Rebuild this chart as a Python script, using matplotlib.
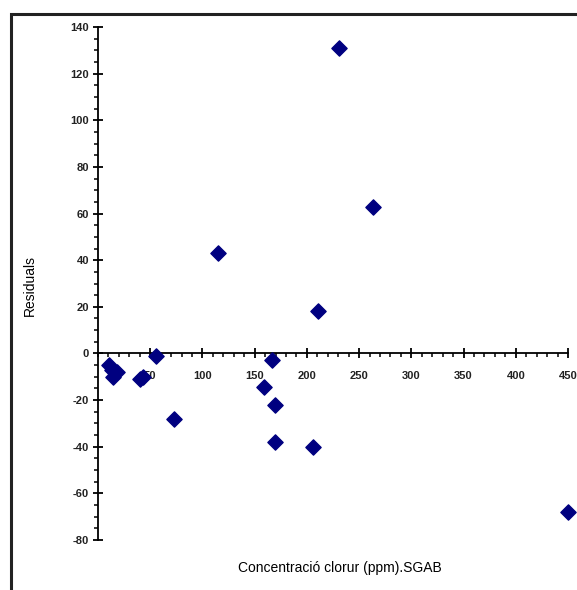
import matplotlib.pyplot as plt
from matplotlib.patches import Rectangle
from matplotlib.ticker import MultipleLocator

# chloride concentration (ppm) vs residuals
conc = [231, 263, 115, 211, 56, 167, 11, 13, 18, 14, 40, 43, 159, 169, 73, 169, 206, 450]
resid = [131, 63, 43, 18, -1, -3, -5, -7, -8, -10, -11, -10, -14.5, -22, -28, -38, -40, -68]

x_ticks = [50, 100, 150, 200, 250, 300, 350, 400, 450]
y_ticks = [-80, -60, -40, -20, 0, 20, 40, 60, 80, 100, 120, 140]

plt.rcParams['font.family'] = ['Liberation Sans', 'DejaVu Sans']
plt.rcParams['axes.unicode_minus'] = False

fig = plt.figure(figsize=(5.77, 5.90), dpi=100)
# outer chart frame (cut off at right and bottom like the screenshot)
fig.patches.append(Rectangle((11 / 577, -0.1), 1.2, 1 - 14 / 590 + 0.1,
                             transform=fig.transFigure, fill=False,
                             edgecolor='#222222', linewidth=2.2))

ax = fig.add_axes([98 / 577, 1 - 540 / 590, 470 / 577, 513 / 590])
ax.scatter(conc, resid, marker='D', s=60, color='#000080', zorder=3, clip_on=False)

ax.set_xlim(0, 450)
ax.set_ylim(-80, 140)

ax.spines['top'].set_visible(False)
ax.spines['right'].set_visible(False)
ax.spines['bottom'].set_position(('data', 0))
for sp in ('left', 'bottom'):
    ax.spines[sp].set_linewidth(1.3)
    ax.spines[sp].set_color('black')

ax.set_xticks(x_ticks)
ax.set_yticks(y_ticks)
ax.xaxis.set_minor_locator(MultipleLocator(10))
ax.yaxis.set_minor_locator(MultipleLocator(5))
ax.tick_params(axis='both', which='major', direction='inout', length=7, width=1.3,
               labelsize=8, pad=3)
ax.tick_params(axis='both', which='minor', direction='out', length=3, width=1.1)
ax.tick_params(axis='x', which='major', pad=9)
for lab in ax.get_xticklabels() + ax.get_yticklabels():
    lab.set_fontweight('bold')
    lab.set_color('#222222')

fig.text(30 / 577, 1 - 285 / 590, 'Residuals', rotation=90, ha='center', va='center',
         fontsize=10)
fig.text(340 / 577, 1 - 568 / 590, 'Concentració clorur (ppm).SGAB',
         ha='center', va='center', fontsize=10)

fig.savefig('out.png', dpi=100)
